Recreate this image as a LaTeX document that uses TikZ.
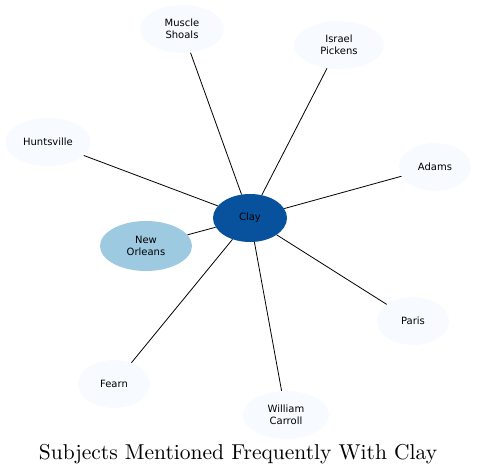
\documentclass[tikz,border=0pt]{standalone}
\usepackage{fontspec}
\setsansfont{DejaVu Sans}
\usepackage{tikz}
\usetikzlibrary{shapes.geometric}
\definecolor{claybl}{RGB}{8,81,156}
\definecolor{midbl}{RGB}{158,202,225}
\definecolor{palebl}{RGB}{247,251,255}

\begin{document}
\begin{tikzpicture}[
    x=1pt, y=-1pt,
    subj/.style={ellipse, fill=palebl, minimum width=72pt, minimum height=48pt, inner sep=0pt, font=\sffamily\fontsize{10}{12}\selectfont, align=center},
    link/.style={draw=black, line width=0.8pt},
    title/.style={font=\normalsize}
]
\useasboundingbox (0,0) rectangle (477,476);

% Center
\node[subj, fill=claybl, minimum width=74pt] (clay) at (250,218) {Clay};
\node[subj, fill=midbl, minimum width=92pt, minimum height=50pt] (neworleans) at (146,246) {New\\Orleans};

% Outer subjects
\node[subj, minimum width=84pt] (muscle) at (182,29) {Muscle\\Shoals};
\node[subj, minimum width=90pt] (israel) at (339,45) {Israel\\Pickens};
\node[subj, minimum width=86pt] (huntsville) at (48,142) {Huntsville};
\node[subj] (adams) at (435,167) {Adams};
\node[subj] (paris) at (413,321) {Paris};
\node[subj, minimum width=86pt] (william) at (286,415) {William\\Carroll};
\node[subj] (fearn) at (114,384) {Fearn};

% Edges
\draw[link] (clay) -- (neworleans);
\draw[link] (clay) -- (muscle);
\draw[link] (clay) -- (israel);
\draw[link] (clay) -- (huntsville);
\draw[link] (clay) -- (adams);
\draw[link] (clay) -- (paris);
\draw[link] (clay) -- (william);
\draw[link] (clay) -- (fearn);

% Title
\node[title] (caption) at (238,454) {\scalebox{2.15}{Subjects Mentioned Frequently With Clay}};
\end{tikzpicture}
\end{document}
